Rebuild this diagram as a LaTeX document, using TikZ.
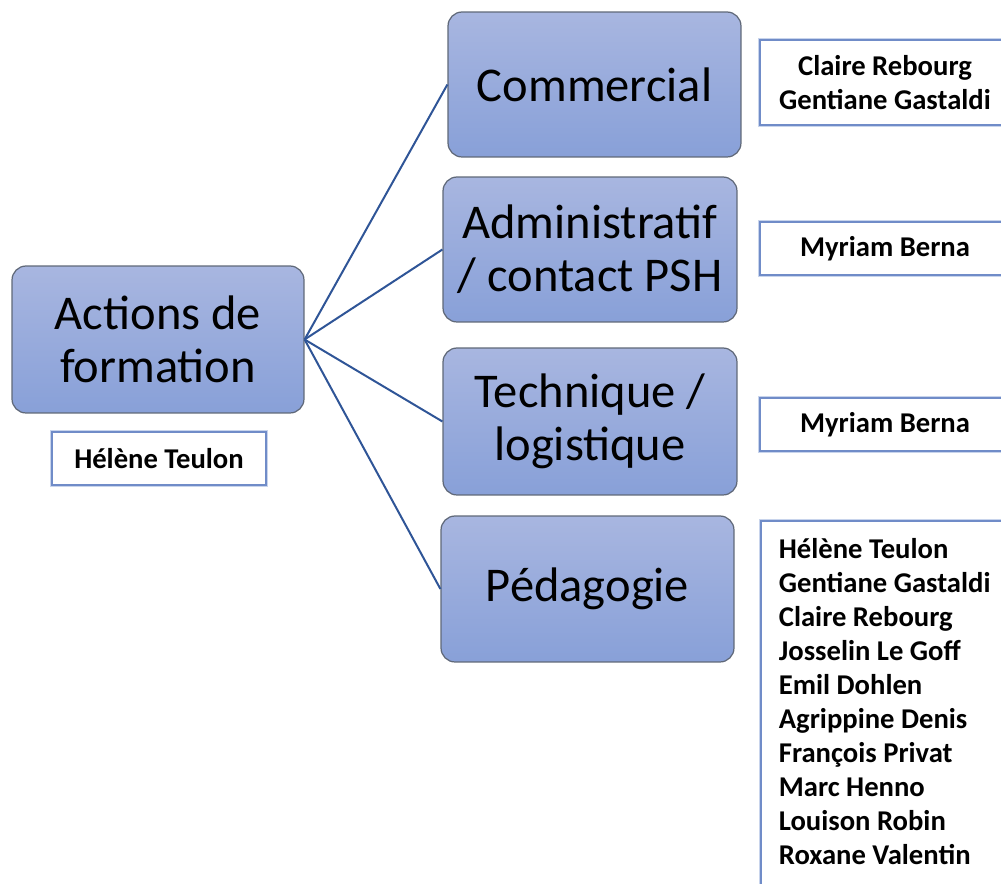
\documentclass[tikz,border=0pt]{standalone}
\usepackage{fontspec}
\setmainfont{Carlito}
\usepackage{tikz}
\usetikzlibrary{shapes,arrows}

\definecolor{boxtop}{RGB}{168,182,224}
\definecolor{boxbot}{RGB}{136,160,216}
\definecolor{boxline}{RGB}{95,104,120}
\definecolor{linkblue}{RGB}{47,85,151}
\definecolor{staffline}{RGB}{112,140,200}
\definecolor{staffglow}{RGB}{200,212,236}

\begin{document}
\begin{tikzpicture}[x=0.02cm,y=-0.02cm]
\tikzstyle{topic}=[rectangle,rounded corners=0.28cm,top color=boxtop,bottom color=boxbot,draw=boxline,line width=0.7pt,align=center,inner sep=0pt,font=\fontsize{27.6}{30.2}\selectfont]
\tikzstyle{staff}=[rectangle,fill=white,draw=staffline,line width=0.035cm,preaction={draw=staffglow,line width=0.09cm},inner sep=0pt,font=\fontsize{16.3}{19.3}\selectfont\bfseries]
\tikzstyle{link}=[draw=linkblue,line width=0.04cm]
\useasboundingbox (0,0) rectangle (1001,884);
\clip (0,0) rectangle (1001,884);
% main boxes
\node [topic,minimum width=5.84cm,minimum height=2.94cm] (actions) at (158,339.5) {Actions de\\formation};
\node [topic,minimum width=5.86cm,minimum height=2.90cm] (commercial) at (594.5,84.5) {Commercial};
\node [topic,minimum width=5.88cm,minimum height=2.90cm] (admin) at (590,249.5) {Administratif\\/ contact PSH};
\node [topic,minimum width=5.88cm,minimum height=2.94cm] (technique) at (590,421.5) {Technique /\\logistique};
\node [topic,minimum width=5.86cm,minimum height=2.92cm] (pedago) at (587.5,589) {Pédagogie};
% links
\draw [link] (actions.east) -- (commercial.west);
\draw [link] (actions.east) -- (admin.west);
\draw [link] (actions.east) -- (technique.west);
\draw [link] (actions.east) -- (pedago.west);
% people
\node [staff,minimum width=4.28cm,minimum height=1.06cm] (lead) at (159,458.5) {Hélène Teulon};
\node [staff,minimum width=5.00cm,minimum height=1.70cm,align=center] (commstaff) at (885,82.5) {Claire Rebourg\\Gentiane Gastaldi};
\node [staff,minimum width=5.00cm,minimum height=1.06cm] (adminstaff) at (885,248.5) {Myriam Berna};
\node [staff,minimum width=5.00cm,minimum height=1.06cm] (techstaff) at (885,424.5) {Myriam Berna};
\node [staff,text width=4.64cm,align=flush left,anchor=north west,inner xsep=0.36cm,inner ysep=0.36cm,text depth=6.92cm] (pedastaff) at (760,520) {Hélène Teulon\\Gentiane Gastaldi\\Claire Rebourg\\Josselin Le Goff\\Emil Dohlen\\Agrippine Denis\\François Privat\\Marc Henno\\Louison Robin\\Roxane Valentin};
\end{tikzpicture}
\end{document}
